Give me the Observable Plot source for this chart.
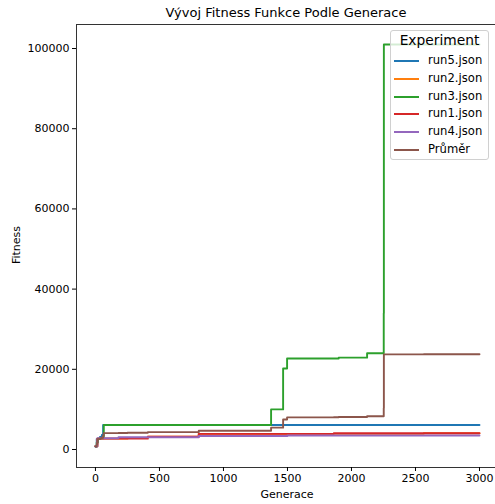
<!DOCTYPE html>
<html>
<head>
<meta charset="utf-8">
<script src="https://cdn.jsdelivr.net/npm/d3@7"></script>
<script src="https://cdn.jsdelivr.net/npm/@observablehq/plot@0.6"></script>
<style>
  html, body { margin: 0; padding: 0; background: #fff; }
  #wrap { position: relative; width: 495px; height: 504px; font-family: "DejaVu Sans", sans-serif; }
  #legend { position: absolute; left: 390px; top: 30px; width: 99px; height: 130px;
    background: rgba(255,255,255,0.8); border: 1px solid #d0d0d0; border-radius: 3px; box-sizing: border-box; }
  #legend .ttl { position: absolute; left: 0; width: 100%; top: 1px; text-align: center; font-size: 13.8px; color: #000; }
  #legend .row { position: absolute; left: 3px; height: 14px; font-size: 11.6px; color: #000; white-space: nowrap; }
  #legend .sw { position: absolute; left: 0; top: 6px; width: 25px; height: 2px; }
  #legend .lb { position: absolute; left: 34px; top: -1px; }
</style>
</head>
<body>
<div id="wrap"><div id="chart"></div><div id="legend"></div></div>
<script>
// ---- data ----
const seriesNames = ["run5.json", "run2.json", "run3.json", "run1.json", "run4.json", "Průměr"];
const seriesColors = ["#1f77b4", "#ff7f0e", "#2ca02c", "#d62728", "#9467bd", "#8c564b"];

const run5Gen = [0, 10, 35, 50, 60, 3000];
const run5Fit = [700, 2600, 3100, 3600, 6100, 6100];

const run2Gen = [0, 15, 250, 409, 807, 2565, 3000];
const run2Fit = [800, 2700, 2900, 3200, 3900, 4050, 4050];

const run3Gen = [0, 10, 20, 40, 65, 1372, 1466, 1497, 1900, 2122, 2252, 2253, 3000];
const run3Fit = [800, 1800, 2600, 2800, 6100, 10000, 20200, 22700, 22900, 24000, 34000, 101000, 101000];

const run1Gen = [0, 15, 409, 807, 1862, 3000];
const run1Fit = [800, 2700, 3200, 3900, 4050, 4050];

const run4Gen = [0, 15, 180, 807, 1500, 3000];
const run4Fit = [800, 2800, 3050, 3350, 3500, 3500];

const xTicks = [0, 500, 1000, 1500, 2000, 2500, 3000];
const yTicks = [0, 20000, 40000, 60000, 80000, 100000];

const titleText = "Vývoj Fitness Funkce Podle Generace";
const xLabel = "Generace";
const yLabel = "Fitness";
const legendTitle = "Experiment";

// ---- build tables ----
const runs = [
  {name: seriesNames[0], gen: run5Gen, fit: run5Fit},
  {name: seriesNames[1], gen: run2Gen, fit: run2Fit},
  {name: seriesNames[2], gen: run3Gen, fit: run3Fit},
  {name: seriesNames[3], gen: run1Gen, fit: run1Fit},
  {name: seriesNames[4], gen: run4Gen, fit: run4Fit}
];
function valueAt(r, g) {
  let v = r.fit[0];
  for (let i = 0; i < r.gen.length; i++) if (r.gen[i] <= g) v = r.fit[i];
  return v;
}
const rows = [];
for (const r of runs) r.gen.forEach((g, i) => rows.push({series: r.name, gen: g, fit: r.fit[i]}));
const grid = Array.from(new Set(runs.flatMap(r => r.gen))).sort((a, b) => a - b);
for (const g of grid) rows.push({series: seriesNames[5], gen: g, fit: d3.mean(runs, r => valueAt(r, g))});

const xDomain = [-148, 3125];
const yDomain = [-4490, 105990];

const plot = Plot.plot({
  width: 495, height: 504,
  marginLeft: 76, marginTop: 24, marginBottom: 37, marginRight: 0,
  style: {fontFamily: "DejaVu Sans, sans-serif", fontSize: "11px", color: "#000", background: "#fff"},
  x: {domain: xDomain, label: null},
  y: {domain: yDomain, label: null},
  color: {domain: seriesNames, range: seriesColors},
  marks: [
    Plot.line(rows, {x: "gen", y: "fit", z: "series", stroke: "series", curve: "step-after", strokeWidth: 1.9}),
    Plot.ruleX([xDomain[0]], {stroke: "#333", strokeWidth: 1}),
    Plot.ruleY([yDomain[0]], {stroke: "#333", strokeWidth: 1}),
    Plot.ruleY([yDomain[1]], {stroke: "#333", strokeWidth: 1}),
    Plot.axisX({ticks: xTicks, tickFormat: d3.format("d"), tickSize: 4, tickPadding: 3, fontSize: 11, label: null}),
    Plot.axisY({ticks: yTicks, tickFormat: d3.format("d"), tickSize: 4, tickPadding: 3, fontSize: 11, label: null})
  ]
});
document.getElementById("chart").appendChild(plot);

const svg = d3.select(plot);
svg.append("text").attr("x", 286).attr("y", 17).attr("text-anchor", "middle")
  .attr("font-size", 13).attr("fill", "#000").text(titleText);
svg.append("text").attr("x", 287).attr("y", 498).attr("text-anchor", "middle")
  .attr("font-size", 11).attr("fill", "#000").text(xLabel);
svg.append("text").attr("transform", "translate(20,245) rotate(-90)").attr("text-anchor", "middle")
  .attr("font-size", 11).attr("fill", "#000").text(yLabel);

// legend (matplotlib-style box)
const lg = d3.select("#legend");
lg.append("div").attr("class", "ttl").text(legendTitle);
seriesNames.forEach((n, i) => {
  const row = lg.append("div").attr("class", "row").style("top", (23 + i * 17.8) + "px");
  row.append("div").attr("class", "sw").style("background", seriesColors[i]);
  row.append("div").attr("class", "lb").text(n);
});
</script>
</body>
</html>
